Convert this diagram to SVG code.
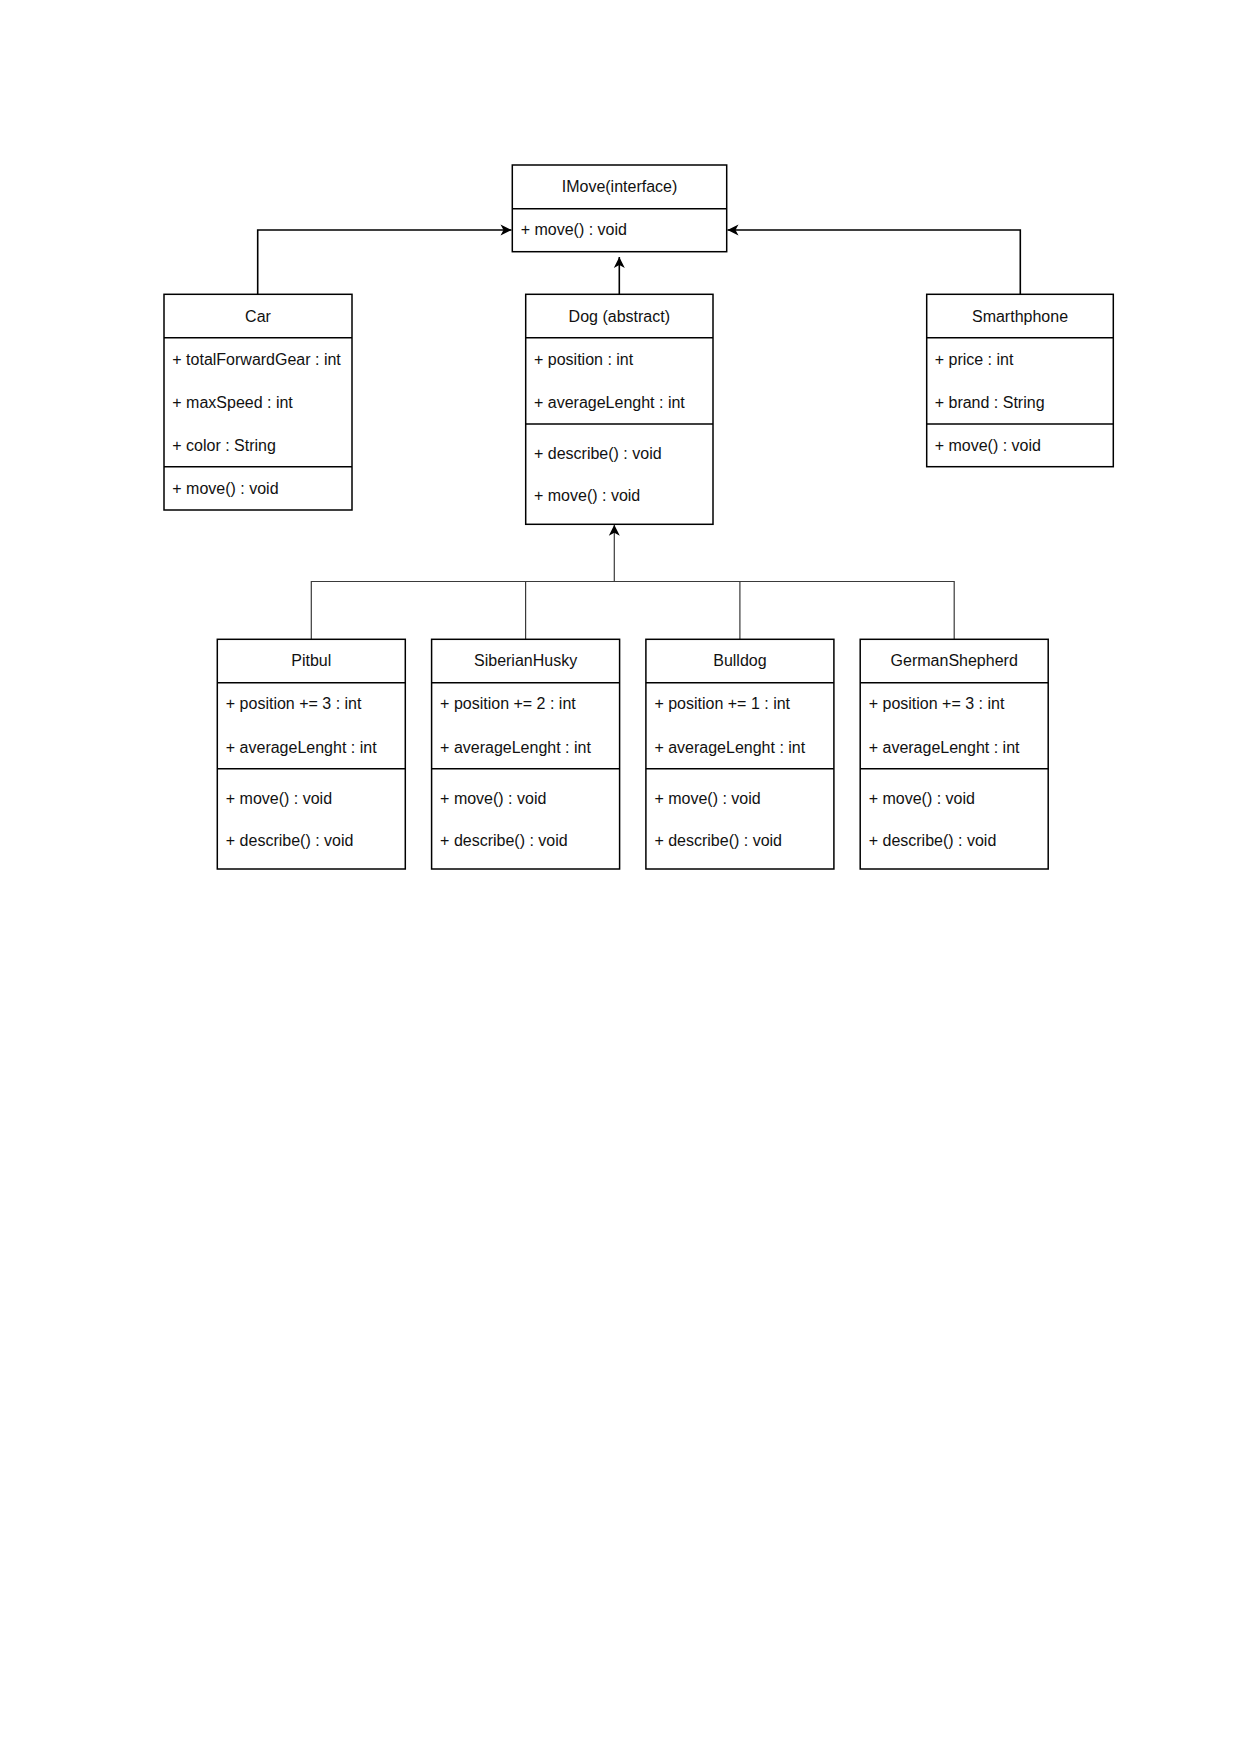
<svg xmlns="http://www.w3.org/2000/svg" width="1241" height="1755" viewBox="0 0 1241 1755">
  <style>
    .box { fill: #ffffff; stroke: #000000; stroke-width: 1.5; }
    .sep { stroke: #000000; stroke-width: 1.5; fill: none; }
    .title { font-family: "Liberation Sans", Arial, sans-serif; font-size: 16px; fill: #111111; text-anchor: middle; }
    .item { font-family: "Liberation Sans", Arial, sans-serif; font-size: 16px; fill: #111111; }
    .link { fill: none; stroke: #000000; stroke-width: 1.6; }
    .link-thin { fill: none; stroke: #3a3a3a; stroke-width: 1.2; }
  </style>
  <defs>
    <marker id="arrow" markerUnits="userSpaceOnUse" viewBox="-12 -7 14 14" refX="0" refY="0" markerWidth="14" markerHeight="14" orient="auto">
      <path d="M0,0 L-11,-5.5 L-8,0 L-11,5.5 Z" fill="#000000"/>
    </marker>
  </defs>
  <rect width="1241" height="1755" fill="#ffffff"/>

  <!-- relations -->
  <g id="connectors">
    <path class="link" d="M257.7,294.3 V230 H511.5" marker-end="url(#arrow)"/>
    <path class="link" d="M1020.3,294.3 V230 H727.5" marker-end="url(#arrow)"/>
    <path class="link" d="M619.3,294.3 V257" marker-end="url(#arrow)"/>
    <path class="link-thin" d="M614.3,581.5 V524.8" marker-end="url(#arrow)"/>
    <path class="link-thin" d="M311.3,639.3 V581.5 H954.2 V639.3 M525.6,581.5 V639.3 M739.9,581.5 V639.3"/>
  </g>

  <!-- IMove -->
  <g id="imove">
    <rect class="box" x="512.3" y="165" width="214.4" height="86.7"/>
    <line class="sep" x1="512.3" y1="208.7" x2="726.7" y2="208.7"/>
    <text class="title" x="619.5" y="191.7">IMove(interface)</text>
    <text class="item" x="520.7" y="235.3">+ move() : void</text>
  </g>

  <!-- Car -->
  <g id="car">
    <rect class="box" x="164" y="294.3" width="188" height="215.7"/>
    <line class="sep" x1="164" y1="337.7" x2="352" y2="337.7"/>
    <line class="sep" x1="164" y1="466.7" x2="352" y2="466.7"/>
    <text class="title" x="258" y="321.7">Car</text>
    <text class="item" x="172.3" y="365">+ totalForwardGear : int</text>
    <text class="item" x="172.3" y="407.7">+ maxSpeed : int</text>
    <text class="item" x="172.3" y="450.7">+ color : String</text>
    <text class="item" x="172.3" y="494">+ move() : void</text>
  </g>

  <!-- Dog -->
  <g id="dog">
    <rect class="box" x="525.7" y="294.3" width="187.3" height="230"/>
    <line class="sep" x1="525.7" y1="337.7" x2="713" y2="337.7"/>
    <line class="sep" x1="525.7" y1="424" x2="713" y2="424"/>
    <text class="title" x="619.3" y="321.7">Dog (abstract)</text>
    <text class="item" x="534" y="365">+ position : int</text>
    <text class="item" x="534" y="407.7">+ averageLenght : int</text>
    <text class="item" x="534" y="459.3">+ describe() : void</text>
    <text class="item" x="534" y="501">+ move() : void</text>
  </g>

  <!-- Smarthphone -->
  <g id="smarthphone">
    <rect class="box" x="926.7" y="294.3" width="186.6" height="172.4"/>
    <line class="sep" x1="926.7" y1="337.7" x2="1113.3" y2="337.7"/>
    <line class="sep" x1="926.7" y1="424" x2="1113.3" y2="424"/>
    <text class="title" x="1020" y="321.7">Smarthphone</text>
    <text class="item" x="934.7" y="365">+ price : int</text>
    <text class="item" x="934.7" y="407.7">+ brand : String</text>
    <text class="item" x="934.7" y="450.7">+ move() : void</text>
  </g>

  <!-- Pitbul -->
  <g id="pitbul">
    <rect class="box" x="217.3" y="639.3" width="188" height="229.7"/>
    <line class="sep" x1="217.3" y1="682.7" x2="405.3" y2="682.7"/>
    <line class="sep" x1="217.3" y1="768.7" x2="405.3" y2="768.7"/>
    <text class="title" x="311.3" y="666">Pitbul</text>
    <text class="item" x="225.8" y="709.3">+ position += 3 : int</text>
    <text class="item" x="225.8" y="752.7">+ averageLenght : int</text>
    <text class="item" x="225.8" y="804.3">+ move() : void</text>
    <text class="item" x="225.8" y="846">+ describe() : void</text>
  </g>

  <!-- SiberianHusky -->
  <g id="siberianhusky">
    <rect class="box" x="431.6" y="639.3" width="188" height="229.7"/>
    <line class="sep" x1="431.6" y1="682.7" x2="619.6" y2="682.7"/>
    <line class="sep" x1="431.6" y1="768.7" x2="619.6" y2="768.7"/>
    <text class="title" x="525.6" y="666">SiberianHusky</text>
    <text class="item" x="440.1" y="709.3">+ position += 2 : int</text>
    <text class="item" x="440.1" y="752.7">+ averageLenght : int</text>
    <text class="item" x="440.1" y="804.3">+ move() : void</text>
    <text class="item" x="440.1" y="846">+ describe() : void</text>
  </g>

  <!-- Bulldog -->
  <g id="bulldog">
    <rect class="box" x="645.9" y="639.3" width="188" height="229.7"/>
    <line class="sep" x1="645.9" y1="682.7" x2="833.9" y2="682.7"/>
    <line class="sep" x1="645.9" y1="768.7" x2="833.9" y2="768.7"/>
    <text class="title" x="739.9" y="666">Bulldog</text>
    <text class="item" x="654.4" y="709.3">+ position += 1 : int</text>
    <text class="item" x="654.4" y="752.7">+ averageLenght : int</text>
    <text class="item" x="654.4" y="804.3">+ move() : void</text>
    <text class="item" x="654.4" y="846">+ describe() : void</text>
  </g>

  <!-- GermanShepherd -->
  <g id="germanshepherd">
    <rect class="box" x="860.2" y="639.3" width="188" height="229.7"/>
    <line class="sep" x1="860.2" y1="682.7" x2="1048.2" y2="682.7"/>
    <line class="sep" x1="860.2" y1="768.7" x2="1048.2" y2="768.7"/>
    <text class="title" x="954.2" y="666">GermanShepherd</text>
    <text class="item" x="868.7" y="709.3">+ position += 3 : int</text>
    <text class="item" x="868.7" y="752.7">+ averageLenght : int</text>
    <text class="item" x="868.7" y="804.3">+ move() : void</text>
    <text class="item" x="868.7" y="846">+ describe() : void</text>
  </g>
</svg>
